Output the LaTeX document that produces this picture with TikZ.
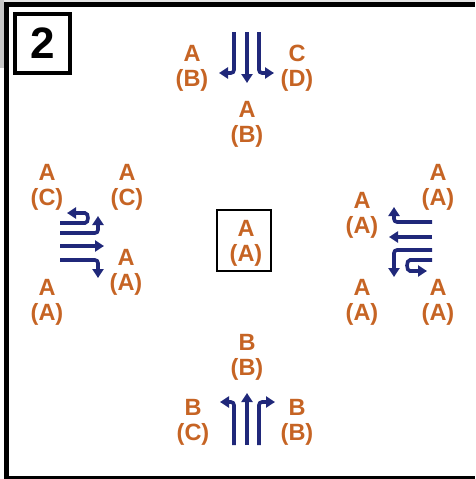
\documentclass[tikz,border=0pt]{standalone}
\usepackage{fontspec}
\setmainfont{Liberation Sans}
\usetikzlibrary{arrows.meta}
\definecolor{labcol}{RGB}{198,100,36}
\definecolor{arrcol}{RGB}{32,40,122}
\newcommand\pairlab[5]{%
  \node[labtext] (#1a) at (#2,#3) {#4};
  \node[labtext] (#1b) at (#2,#3+27) {#5};}
\begin{document}
\begin{tikzpicture}[x=1pt,y=-1pt,
  labtext/.style={text=labcol,font=\fontsize{23.5}{27}\selectfont\bfseries,inner sep=0pt},
  flow/.style={draw=arrcol,line width=3.6pt,rounded corners=3pt,
    -{Triangle[width=11pt,length=9pt]}},
  frame/.style={fill=black}]
\useasboundingbox (0,0) rectangle (475,479);
% outer frame
\fill[gray!45] (0,0) rectangle (4,68);
\fill[gray!20] (4,0) rectangle (475,2);
\fill[frame] (4,2) rectangle (475,7);
\fill[frame] (4,2) rectangle (9,479);
\fill[frame] (4,476) rectangle (475,479);
% number box
\node[draw,line width=4pt,minimum width=55pt,minimum height=59pt,inner sep=0pt,
  font=\fontsize{44}{44}\selectfont\bfseries] (num) at (42.5,43.5) {2};
% centre box
\node[draw,line width=2pt,minimum width=54pt,minimum height=61pt,inner sep=0pt] (ctrbox) at (244,240.5) {};
\pairlab{ctr}{246}{228}{A}{(A)}
% top group
\pairlab{tl}{192}{53}{A}{(B)}
\pairlab{tr}{297}{53}{C}{(D)}
\pairlab{tb}{247}{109}{A}{(B)}
\draw[flow] (234,32) -- (234,73) -- (219,73);
\draw[flow] (247,32) -- (247,83);
\draw[flow] (259,32) -- (259,73) -- (274,73);
% bottom group
\pairlab{bt}{247}{342}{B}{(B)}
\pairlab{bl}{193}{407}{B}{(C)}
\pairlab{br}{297}{407}{B}{(B)}
\draw[flow] (234,445) -- (234,402) -- (220,402);
\draw[flow] (247,445) -- (247,393);
\draw[flow] (259,445) -- (259,402) -- (275,402);
% left group
\pairlab{ltl}{47}{172}{A}{(C)}
\pairlab{ltr}{127}{172}{A}{(C)}
\pairlab{lmr}{126}{257}{A}{(A)}
\pairlab{lbl}{47}{287}{A}{(A)}
\draw[flow] (60,223) -- (82,223) .. controls (89,223) and (89,213) .. (82,213) -- (67,213);
\draw[flow] (60,233) -- (98,233) -- (98,216);
\draw[flow] (60,246) -- (104,246);
\draw[flow] (60,260) -- (98,260) -- (98,278);
% right group
\pairlab{rtr}{438}{172}{A}{(A)}
\pairlab{rml}{362}{200}{A}{(A)}
\pairlab{rbl}{362}{287}{A}{(A)}
\pairlab{rbr}{438}{287}{A}{(A)}
\draw[flow] (432,222) -- (394,222) -- (394,207);
\draw[flow] (432,237) -- (389,237);
\draw[flow] (432,250) -- (394,250) -- (394,277);
\draw[flow] (432,260) -- (413,260) .. controls (406,260) and (406,271) .. (413,271) -- (427,271);
\end{tikzpicture}
\end{document}
